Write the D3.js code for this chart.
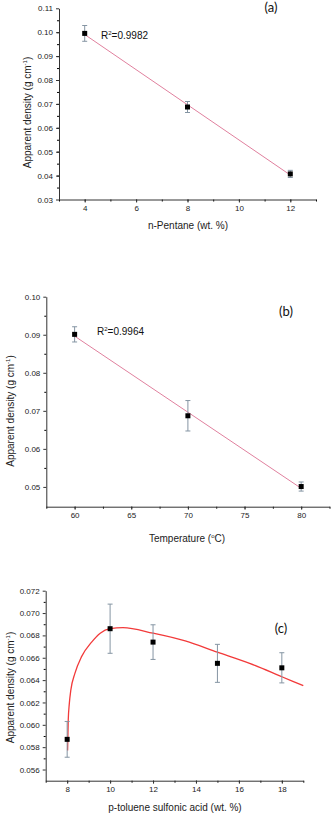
<!DOCTYPE html>
<html>
<head>
<meta charset="utf-8">
<script src="https://cdn.jsdelivr.net/npm/d3@7"></script>
<style>
  html, body { margin: 0; padding: 0; background: #fff; }
  svg { display: block; font-family: "Liberation Sans", Arial, sans-serif; }
</style>
</head>
<body>
<svg id="chart" width="332" height="814"></svg>
<script>
// panel (a): n-pentane
const pentaneX = [4, 8, 12];
const pentaneDensity = [0.0995, 0.0687, 0.0407];
const pentaneErr = [0.0033, 0.0023, 0.0015];
const pentaneTicksX = [4, 6, 8, 10, 12];
const pentaneTicksY = [0.03, 0.04, 0.05, 0.06, 0.07, 0.08, 0.09, 0.10, 0.11];

// panel (b): temperature
const tempX = [60, 70, 80];
const tempDensity = [0.0901, 0.0687, 0.0501];
const tempErr = [0.0020, 0.0040, 0.0012];
const tempTicksX = [60, 65, 70, 75, 80];
const tempTicksY = [0.05, 0.06, 0.07, 0.08, 0.09, 0.10];

// panel (c): p-toluene sulfonic acid
const ptsaX = [8, 10, 12, 15, 18];
const ptsaDensity = [0.0587, 0.0686, 0.0674, 0.0655, 0.0651];
const ptsaErr = [0.0016, 0.0022, 0.00155, 0.0017, 0.00135];
// fitted curve
const ptsaFitX = [8.02, 8.05, 8.1, 8.17, 8.36, 8.67, 9.14, 9.54, 10.0, 10.6, 12, 13.5, 15, 16.5, 18, 19];
const ptsaFitY = [0.0577, 0.0604, 0.0619, 0.0631, 0.0646, 0.0661, 0.0674, 0.0682, 0.0686, 0.06869, 0.0682, 0.0675, 0.0665, 0.0655, 0.0643, 0.0635];
const ptsaTicksX = [8, 10, 12, 14, 16, 18];
const ptsaTicksY = [0.056, 0.058, 0.060, 0.062, 0.064, 0.066, 0.068, 0.070, 0.072];

const svg = d3.select('#chart');

function linFit(xs, ys) {
  const mx = d3.mean(xs), my = d3.mean(ys);
  let sxy = 0, sxx = 0;
  xs.forEach((x, i) => { sxy += (x - mx) * (ys[i] - my); sxx += (x - mx) * (x - mx); });
  const b = sxy / sxx;
  return x => my + b * (x - mx);
}

function drawPanel(p) {
  const g = svg.append('g');
  const x = d3.scaleLinear().domain(p.xDomain).range([p.left, p.right]);
  const y = d3.scaleLinear().domain(p.yDomain).range([p.bottom, p.top]);

  // minor ticks
  g.append('g').attr('transform', `translate(0,${p.bottom})`)
    .call(d3.axisBottom(x).tickValues(p.xMinor).tickSize(2).tickFormat(''))
    .call(a => a.select('.domain').remove());
  g.append('g').attr('transform', `translate(${p.left},0)`)
    .call(d3.axisLeft(y).tickValues(p.yMinor).tickSize(2).tickFormat(''))
    .call(a => a.select('.domain').remove());

  const xa = g.append('g').attr('transform', `translate(0,${p.bottom})`)
    .call(d3.axisBottom(x).tickValues(p.xTicks).tickSize(3).tickSizeOuter(0).tickPadding(3));
  const ya = g.append('g').attr('transform', `translate(${p.left},0)`)
    .call(d3.axisLeft(y).tickValues(p.yTicks).tickSize(3).tickSizeOuter(0).tickPadding(3)
      .tickFormat(d3.format(p.yFmt)));
  [xa, ya].forEach(a => {
    a.selectAll('text').attr('font-size', 8).attr('fill', '#222')
      .attr('font-family', '"Liberation Sans", Arial, sans-serif');
    a.selectAll('line, path').attr('stroke', '#333');
  });

  // fit line / curve
  g.append('path')
    .datum(p.fitX.map((v, i) => [v, p.fitY[i]]))
    .attr('fill', 'none')
    .attr('stroke', p.fitColor)
    .attr('stroke-width', p.fitWidth)
    .attr('d', d3.line().x(d => x(d[0])).y(d => y(d[1])).curve(d3.curveMonotoneX));

  // error bars
  const eb = g.append('g').attr('stroke', '#8595a3').attr('stroke-width', 1);
  p.xs.forEach((xv, i) => {
    const cx = x(xv), y0 = y(p.ys[i] - p.err[i]), y1 = y(p.ys[i] + p.err[i]);
    eb.append('line').attr('x1', cx).attr('x2', cx).attr('y1', y0).attr('y2', y1);
    eb.append('line').attr('x1', cx - 2.5).attr('x2', cx + 2.5).attr('y1', y0).attr('y2', y0);
    eb.append('line').attr('x1', cx - 2.5).attr('x2', cx + 2.5).attr('y1', y1).attr('y2', y1);
  });

  // markers
  g.selectAll('rect.pt').data(p.xs).join('rect')
    .attr('x', d => x(d) - 2.5)
    .attr('y', (d, i) => y(p.ys[i]) - 2.5)
    .attr('width', 5).attr('height', 5).attr('fill', '#000');

  // axis titles
  g.append('text').attr('x', p.xTitlePos[0]).attr('y', p.xTitlePos[1])
    .attr('text-anchor', 'middle').attr('font-size', 10).attr('fill', '#222')
    .call(t => p.xTitle(t));
  const yt = g.append('text')
    .attr('transform', `translate(${p.yTitlePos[0]},${p.yTitlePos[1]}) rotate(-90)`)
    .attr('text-anchor', 'middle').attr('font-size', 10).attr('fill', '#222');
  yt.append('tspan').text('Apparent density (g cm');
  yt.append('tspan').text('-1').attr('font-size', 6).attr('dy', -4);
  yt.append('tspan').text(')').attr('dy', 4);

  // R² label
  if (p.r2) {
    const r = g.append('text').attr('x', p.r2Pos[0]).attr('y', p.r2Pos[1])
      .attr('font-size', 10).attr('fill', '#111');
    r.append('tspan').text('R');
    r.append('tspan').text('2').attr('font-size', 6).attr('dy', -4);
    r.append('tspan').text('=' + p.r2).attr('dy', 4);
  }

  // panel letter
  g.append('text').attr('x', p.labelPos[0]).attr('y', p.labelPos[1])
    .attr('text-anchor', 'middle').attr('font-size', 13).attr('fill', '#111')
    .attr('font-family', 'Lato, "Open Sans", sans-serif')
    .text(p.label);
}

const fitA = linFit(pentaneX, pentaneDensity);
drawPanel({
  left: 59, right: 316, top: 8.3, bottom: 199.5,
  xDomain: [3, 13], yDomain: [0.03, 0.11],
  xTicks: pentaneTicksX, yTicks: pentaneTicksY, yFmt: '.2f',
  xMinor: d3.range(3, 13.5, 1), yMinor: d3.range(0.035, 0.11, 0.005),
  xs: pentaneX, ys: pentaneDensity, err: pentaneErr,
  fitX: [4, 12], fitY: [fitA(4), fitA(12)], fitColor: '#e0809e', fitWidth: 1,
  xTitle: t => t.text('n-Pentane (wt. %)'), xTitlePos: [188, 229],
  yTitlePos: [31, 112.5],
  r2: '0.9982', r2Pos: [101, 39],
  label: '(a)', labelPos: [271, 12]
});

const fitB = linFit(tempX, tempDensity);
drawPanel({
  left: 46.3, right: 329.5, top: 296.7, bottom: 506.7,
  xDomain: [57.5, 82.5], yDomain: [0.0448, 0.10],
  xTicks: tempTicksX, yTicks: tempTicksY, yFmt: '.2f',
  xMinor: d3.range(57.5, 83, 2.5), yMinor: d3.range(0.055, 0.10, 0.01),
  xs: tempX, ys: tempDensity, err: tempErr,
  fitX: [60, 80], fitY: [fitB(60), fitB(80)], fitColor: '#e0809e', fitWidth: 1,
  xTitle: t => {
    t.append('tspan').text('Temperature (');
    t.append('tspan').text('o').attr('font-size', 6).attr('dy', -4);
    t.append('tspan').text('C)').attr('dy', 4);
  },
  xTitlePos: [187, 542],
  yTitlePos: [14, 411],
  r2: '0.9964', r2Pos: [97, 334.5],
  label: '(b)', labelPos: [286, 315.5]
});

drawPanel({
  left: 45.7, right: 303.3, top: 590.7, bottom: 780.7,
  xDomain: [7, 19], yDomain: [0.055, 0.072],
  xTicks: ptsaTicksX, yTicks: ptsaTicksY, yFmt: '.3f',
  xMinor: d3.range(7, 19.5, 1), yMinor: d3.range(0.057, 0.072, 0.002),
  xs: ptsaX, ys: ptsaDensity, err: ptsaErr,
  fitX: ptsaFitX, fitY: ptsaFitY, fitColor: '#f23a3a', fitWidth: 1.3,
  xTitle: t => t.text('p-toluene sulfonic acid (wt. %)'), xTitlePos: [175, 811],
  yTitlePos: [14, 687.5],
  label: '(c)', labelPos: [281, 632.5]
});
</script>
</body>
</html>
